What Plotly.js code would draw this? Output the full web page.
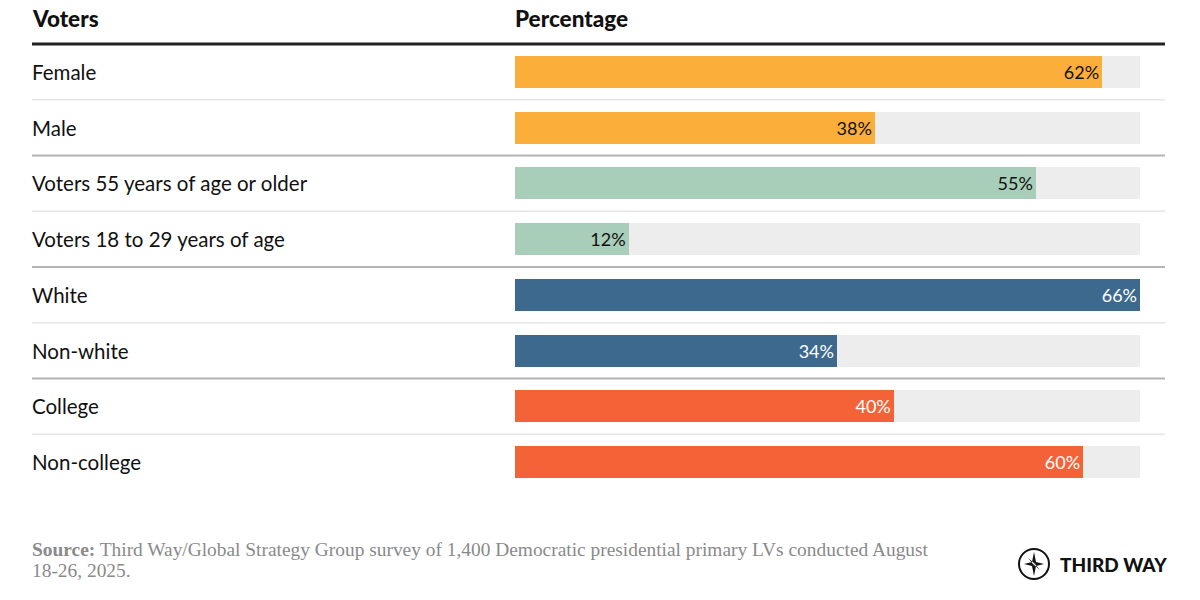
<!DOCTYPE html>
<html><head><meta charset="utf-8">
<script src="https://cdn.plot.ly/plotly-3.0.1.min.js"></script>
<style>html,body{margin:0;padding:0;background:#fff}#chart{width:1200px;height:600px}</style>
</head><body><div id="chart"></div>
<script>
const categories = ["Female","Male","Voters 55 years of age or older","Voters 18 to 29 years of age","White","Non-white","College","Non-college"];
const values = [62,38,55,12,66,34,40,60];
const groups = ["Gender","Gender","Age","Age","Race","Race","Education","Education"];
const trackMax = 66;
const groupColors = {Gender:"#FCAE3B",Age:"#A8CDB8",Race:"#3E698F",Education:"#F46338"};
const groupText = {Gender:"#111111",Age:"#111111",Race:"#ffffff",Education:"#ffffff"};
const headerLeft = "Voters", headerRight = "Percentage";
const sourceBold = "Source:";
const sourceLine1 = " Third Way/Global Strategy Group survey of 1,400 Democratic presidential primary LVs conducted August";
const sourceLine2 = "18-26, 2025.";
const logoText = "THIRD WAY";

const sans = "Lato, 'Open Sans', sans-serif";
const track = {
  type:"bar", orientation:"h", y:categories, x:categories.map(()=>trackMax),
  marker:{color:"#EDEDED"}, width:0.57, hoverinfo:"skip", showlegend:false
};
const bars = {
  type:"bar", orientation:"h", y:categories, x:values,
  marker:{color:groups.map(g=>groupColors[g]), line:{width:0}},
  width:0.57, texttemplate:"%{x}%", textposition:"inside", insidetextanchor:"end",
  textfont:{family:sans, size:18, color:groups.map(g=>groupText[g])},
  constraintext:"none", showlegend:false
};

const shapes = [];
const lx0 = -483/625, lx1 = 1 + 25/625, tx0 = -485/625;
shapes.push({type:"line", xref:"paper", yref:"paper", x0:lx0, x1:lx1, y0:1, y1:1, line:{color:"#222", width:3}});
for(let i=0;i<categories.length-1;i++){
  const groupBreak = groups[i]!==groups[i+1];
  shapes.push({type:"line", xref:"paper", yref:"y", x0:lx0, x1:lx1, y0:i+0.5, y1:i+0.5,
    line:{color: groupBreak ? "#B4B4B4" : "#E6E6E6", width: groupBreak ? 2 : 1.3}, layer:"below"});
}
const logoX = (1034-515)/625, logoY = -(564-490)/446;
shapes.push({type:"circle", xref:"paper", yref:"paper", xsizemode:"pixel", ysizemode:"pixel",
  xanchor:logoX, yanchor:logoY, x0:-15, x1:15, y0:-15, y1:15, line:{color:"#111", width:2}});
shapes.push({type:"path", xref:"paper", yref:"paper", xsizemode:"pixel", ysizemode:"pixel",
  xanchor:logoX, yanchor:logoY,
  path:"M0,12 L2,2 L10,0 L2,-2 L0,-12 L-2,-2 L-10,0 L-2,2 Z M6,6 L1,0 L-6,-6 L0,-1 Z M-6,6 L0,1 L6,-6 L-1,0 Z",
  fillcolor:"#111", line:{width:0}});

const annotations = [];
categories.forEach((c,i)=>{
  annotations.push({xref:"paper", yref:"y", x:tx0, y:c, text:c, showarrow:false, xanchor:"left", yanchor:"middle",
    font:{family:sans, size:20.5, color:"#111"}});
});
annotations.push({xref:"paper", yref:"paper", x:tx0, y:1+26/446, text:headerLeft, showarrow:false,
  xanchor:"left", yanchor:"middle", font:{family:sans, size:22.5, weight:900, color:"#111"}});
annotations.push({xref:"paper", yref:"paper", x:-2/625, y:1+26/446, text:headerRight, showarrow:false,
  xanchor:"left", yanchor:"middle", font:{family:sans, size:22.5, weight:900, color:"#111"}});
const serif = "'Liberation Serif', serif";
annotations.push({xref:"paper", yref:"paper", x:tx0, y:-(549-490)/446, text:"<b>"+sourceBold+"</b>"+sourceLine1, showarrow:false,
  xanchor:"left", yanchor:"middle", align:"left", font:{family:serif, size:19.4, color:"#8A8A8A"}});
annotations.push({xref:"paper", yref:"paper", x:tx0, y:-(570-490)/446, text:sourceLine2, showarrow:false,
  xanchor:"left", yanchor:"middle", align:"left", font:{family:serif, size:19.4, color:"#8A8A8A"}});
annotations.push({xref:"paper", yref:"paper", x:(1058-515)/625, y:logoY, text:logoText, showarrow:false,
  xanchor:"left", yanchor:"middle", font:{family:sans, size:19, weight:900, color:"#111"}});

const layout = {
  width:1200, height:600, paper_bgcolor:"#fff", plot_bgcolor:"#fff",
  margin:{l:515, r:60, t:44, b:110},
  barmode:"overlay", bargap:0,
  xaxis:{range:[0,trackMax], visible:false, fixedrange:true},
  yaxis:{type:"category", range:[categories.length-0.5,-0.5], visible:false, fixedrange:true},
  shapes, annotations, showlegend:false
};
Plotly.newPlot("chart",[track,bars],layout,{displayModeBar:false, staticPlot:true});
</script></body></html>
